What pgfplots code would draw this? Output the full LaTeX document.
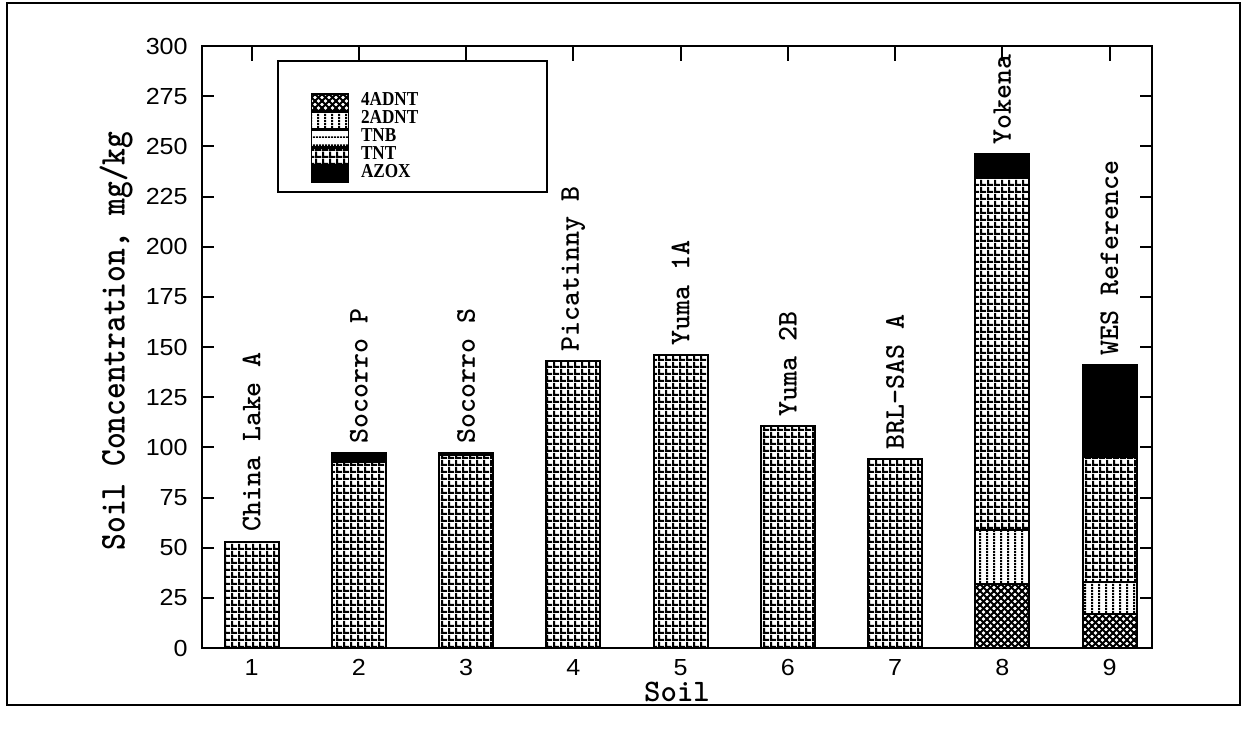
\documentclass[border=0pt]{standalone}
\usepackage{fontspec}
\usepackage{pgfplots}
\usepackage{pgfplotstable}
\pgfplotsset{compat=1.18}
\usetikzlibrary{patterns}
\newfontfamily\tickfont[FakeStretch=1.08]{Liberation Sans}
\newfontfamily\legfont[FakeStretch=0.87]{Liberation Serif}

\pgfdeclarepatternformonly{tntgrid}{\pgfqpoint{0pt}{0pt}}{\pgfqpoint{2.8pt}{2.8pt}}{\pgfqpoint{2.8pt}{2.8pt}}{%
  \pgfpathrectangle{\pgfqpoint{0pt}{0pt}}{\pgfqpoint{2.8pt}{0.95pt}}%
  \pgfpathrectangle{\pgfqpoint{0pt}{0pt}}{\pgfqpoint{0.95pt}{2.8pt}}%
  \pgfusepath{fill}}
\pgfdeclarepatternformonly{vlines}{\pgfqpoint{0pt}{0pt}}{\pgfqpoint{2.7pt}{1pt}}{\pgfqpoint{2.7pt}{1pt}}{%
  \pgfpathrectangle{\pgfqpoint{0pt}{0pt}}{\pgfqpoint{0.85pt}{1pt}}%
  \pgfusepath{fill}}
\pgfdeclarepatternformonly{hlines}{\pgfqpoint{0pt}{0pt}}{\pgfqpoint{1pt}{3pt}}{\pgfqpoint{1pt}{3pt}}{%
  \pgfpathrectangle{\pgfqpoint{0pt}{0pt}}{\pgfqpoint{1pt}{0.7pt}}%
  \pgfusepath{fill}}
\pgfdeclarepatternformonly{xhatch}{\pgfqpoint{-0.5pt}{-0.5pt}}{\pgfqpoint{3.3pt}{3.3pt}}{\pgfqpoint{2.8pt}{2.8pt}}{%
  \pgfsetlinewidth{0.75pt}%
  \pgfpathmoveto{\pgfqpoint{-0.5pt}{-0.5pt}}\pgfpathlineto{\pgfqpoint{3.3pt}{3.3pt}}%
  \pgfpathmoveto{\pgfqpoint{-0.5pt}{3.3pt}}\pgfpathlineto{\pgfqpoint{3.3pt}{-0.5pt}}%
  \pgfusepath{stroke}}

\pgfplotstableread{
x  A4  A2  TNB  TNT   AZOX
1  0   0   0    53    0
2  0   0   0    92.5  4.5
3  0   0   0    96    1
4  0   0   0    143   0
5  0   0   0    146   0
6  0   0   0    110.5 0
7  0   0   0    94    0
8  32  27  0    175   12
9  17  16  0    62    46
}\soildata

\begin{document}
\begin{tikzpicture}
\useasboundingbox (-80.8pt,-36pt) rectangle (419.2pt,259.2pt);
\begin{axis}[
  scale only axis, width=380pt, height=240.8pt,
  xmin=0.538, xmax=9.396, ymin=0, ymax=300,
  ybar stacked, bar width=21.6pt,
  xtick={1,...,9}, ytick={0,25,...,300},
  xtick pos=right, ytick pos=both,
  tick align=inside,
  xtick style={black, line width=0.8pt, /pgfplots/major tick length=6pt},
  ytick style={black, line width=0.8pt, /pgfplots/major tick length=4.9pt},
  axis line style={line width=0.8pt},
  ticklabel style={font=\tickfont\fontsize{9.3}{10}\selectfont},
  /pgf/number format/assume math mode=true,
  xticklabel pos=left,
  yticklabel style={xshift=-2.2pt},
  xticklabel style={yshift=-1.1pt},
  xlabel={Soil}, ylabel={\scalebox{0.88}[1]{Soil Concentration, mg/kg}},
  xlabel style={font=\ttfamily\bfseries\fontsize{12.5}{13}\selectfont, at={(axis description cs:0.5,-0.089)}, anchor=base},
  ylabel style={font=\ttfamily\bfseries\fontsize{14.5}{16}\selectfont, at={(axis description cs:-0.0905,0.51)}, anchor=center},
  legend image code/.code={\draw[#1,draw=black,line width=0.6pt] (0pt,-3.3pt) rectangle (14.8pt,3.3pt);},
  legend style={draw=none, fill=none, at={(axis description cs:0.1137,0.922)}, anchor=north west,
    inner sep=0pt, row sep=0pt, column sep=0pt,
    font=\legfont\bfseries\fontsize{7.9}{8}\selectfont,
    nodes={inner xsep=4.8pt, inner ysep=0pt, text height=5.0pt, text depth=2.2pt}},
  legend cell align=left,
]
\addplot[draw=black, line width=0.8pt, pattern=xhatch] table[x=x,y=A4] {\soildata};
\addlegendentry{4ADNT}
\addplot[draw=black, line width=0.8pt, pattern=vlines] table[x=x,y=A2] {\soildata};
\addlegendentry{2ADNT}
\addplot[draw=black, line width=0.8pt, pattern=hlines] table[x=x,y=TNB] {\soildata};
\addlegendentry{TNB}
\addplot[draw=black, line width=0.8pt, pattern=tntgrid] table[x=x,y=TNT] {\soildata};
\addlegendentry{TNT}
\addplot[draw=black, line width=0.8pt, fill=black] table[x=x,y=AZOX] {\soildata};
\addlegendentry{AZOX}

\draw[line width=0.8pt] (axis description cs:0.0800,0.9759) rectangle (axis description cs:0.3632,0.7575);

\node[rotate=90, anchor=west, inner sep=3.8pt, font=\ttfamily\bfseries\fontsize{11.4}{12}\selectfont] at (axis cs:1,53) {China Lake A};
\node[rotate=90, anchor=west, inner sep=3.8pt, font=\ttfamily\bfseries\fontsize{11.4}{12}\selectfont] at (axis cs:2,97) {Socorro P};
\node[rotate=90, anchor=west, inner sep=3.8pt, font=\ttfamily\bfseries\fontsize{11.4}{12}\selectfont] at (axis cs:3,97) {Socorro S};
\node[rotate=90, anchor=west, inner sep=3.8pt, font=\ttfamily\bfseries\fontsize{11.4}{12}\selectfont] at (axis cs:4,143) {Picatinny B};
\node[rotate=90, anchor=west, inner sep=3.8pt, font=\ttfamily\bfseries\fontsize{11.4}{12}\selectfont] at (axis cs:5,146) {Yuma 1A};
\node[rotate=90, anchor=west, inner sep=3.8pt, font=\ttfamily\bfseries\fontsize{11.4}{12}\selectfont] at (axis cs:6,110.5) {Yuma 2B};
\node[rotate=90, anchor=west, inner sep=3.8pt, font=\ttfamily\bfseries\fontsize{11.4}{12}\selectfont] at (axis cs:7,94) {BRL-SAS A};
\node[rotate=90, anchor=west, inner sep=3.8pt, font=\ttfamily\bfseries\fontsize{11.4}{12}\selectfont] at (axis cs:8,246) {Yokena};
\node[rotate=90, anchor=west, inner sep=3.8pt, font=\ttfamily\bfseries\fontsize{11.4}{12}\selectfont] at (axis cs:9,141) {WES Reference};
\end{axis}
\draw[line width=0.9pt] (-78pt,-22.8pt) rectangle (415.2pt,258pt);
\end{tikzpicture}
\end{document}
